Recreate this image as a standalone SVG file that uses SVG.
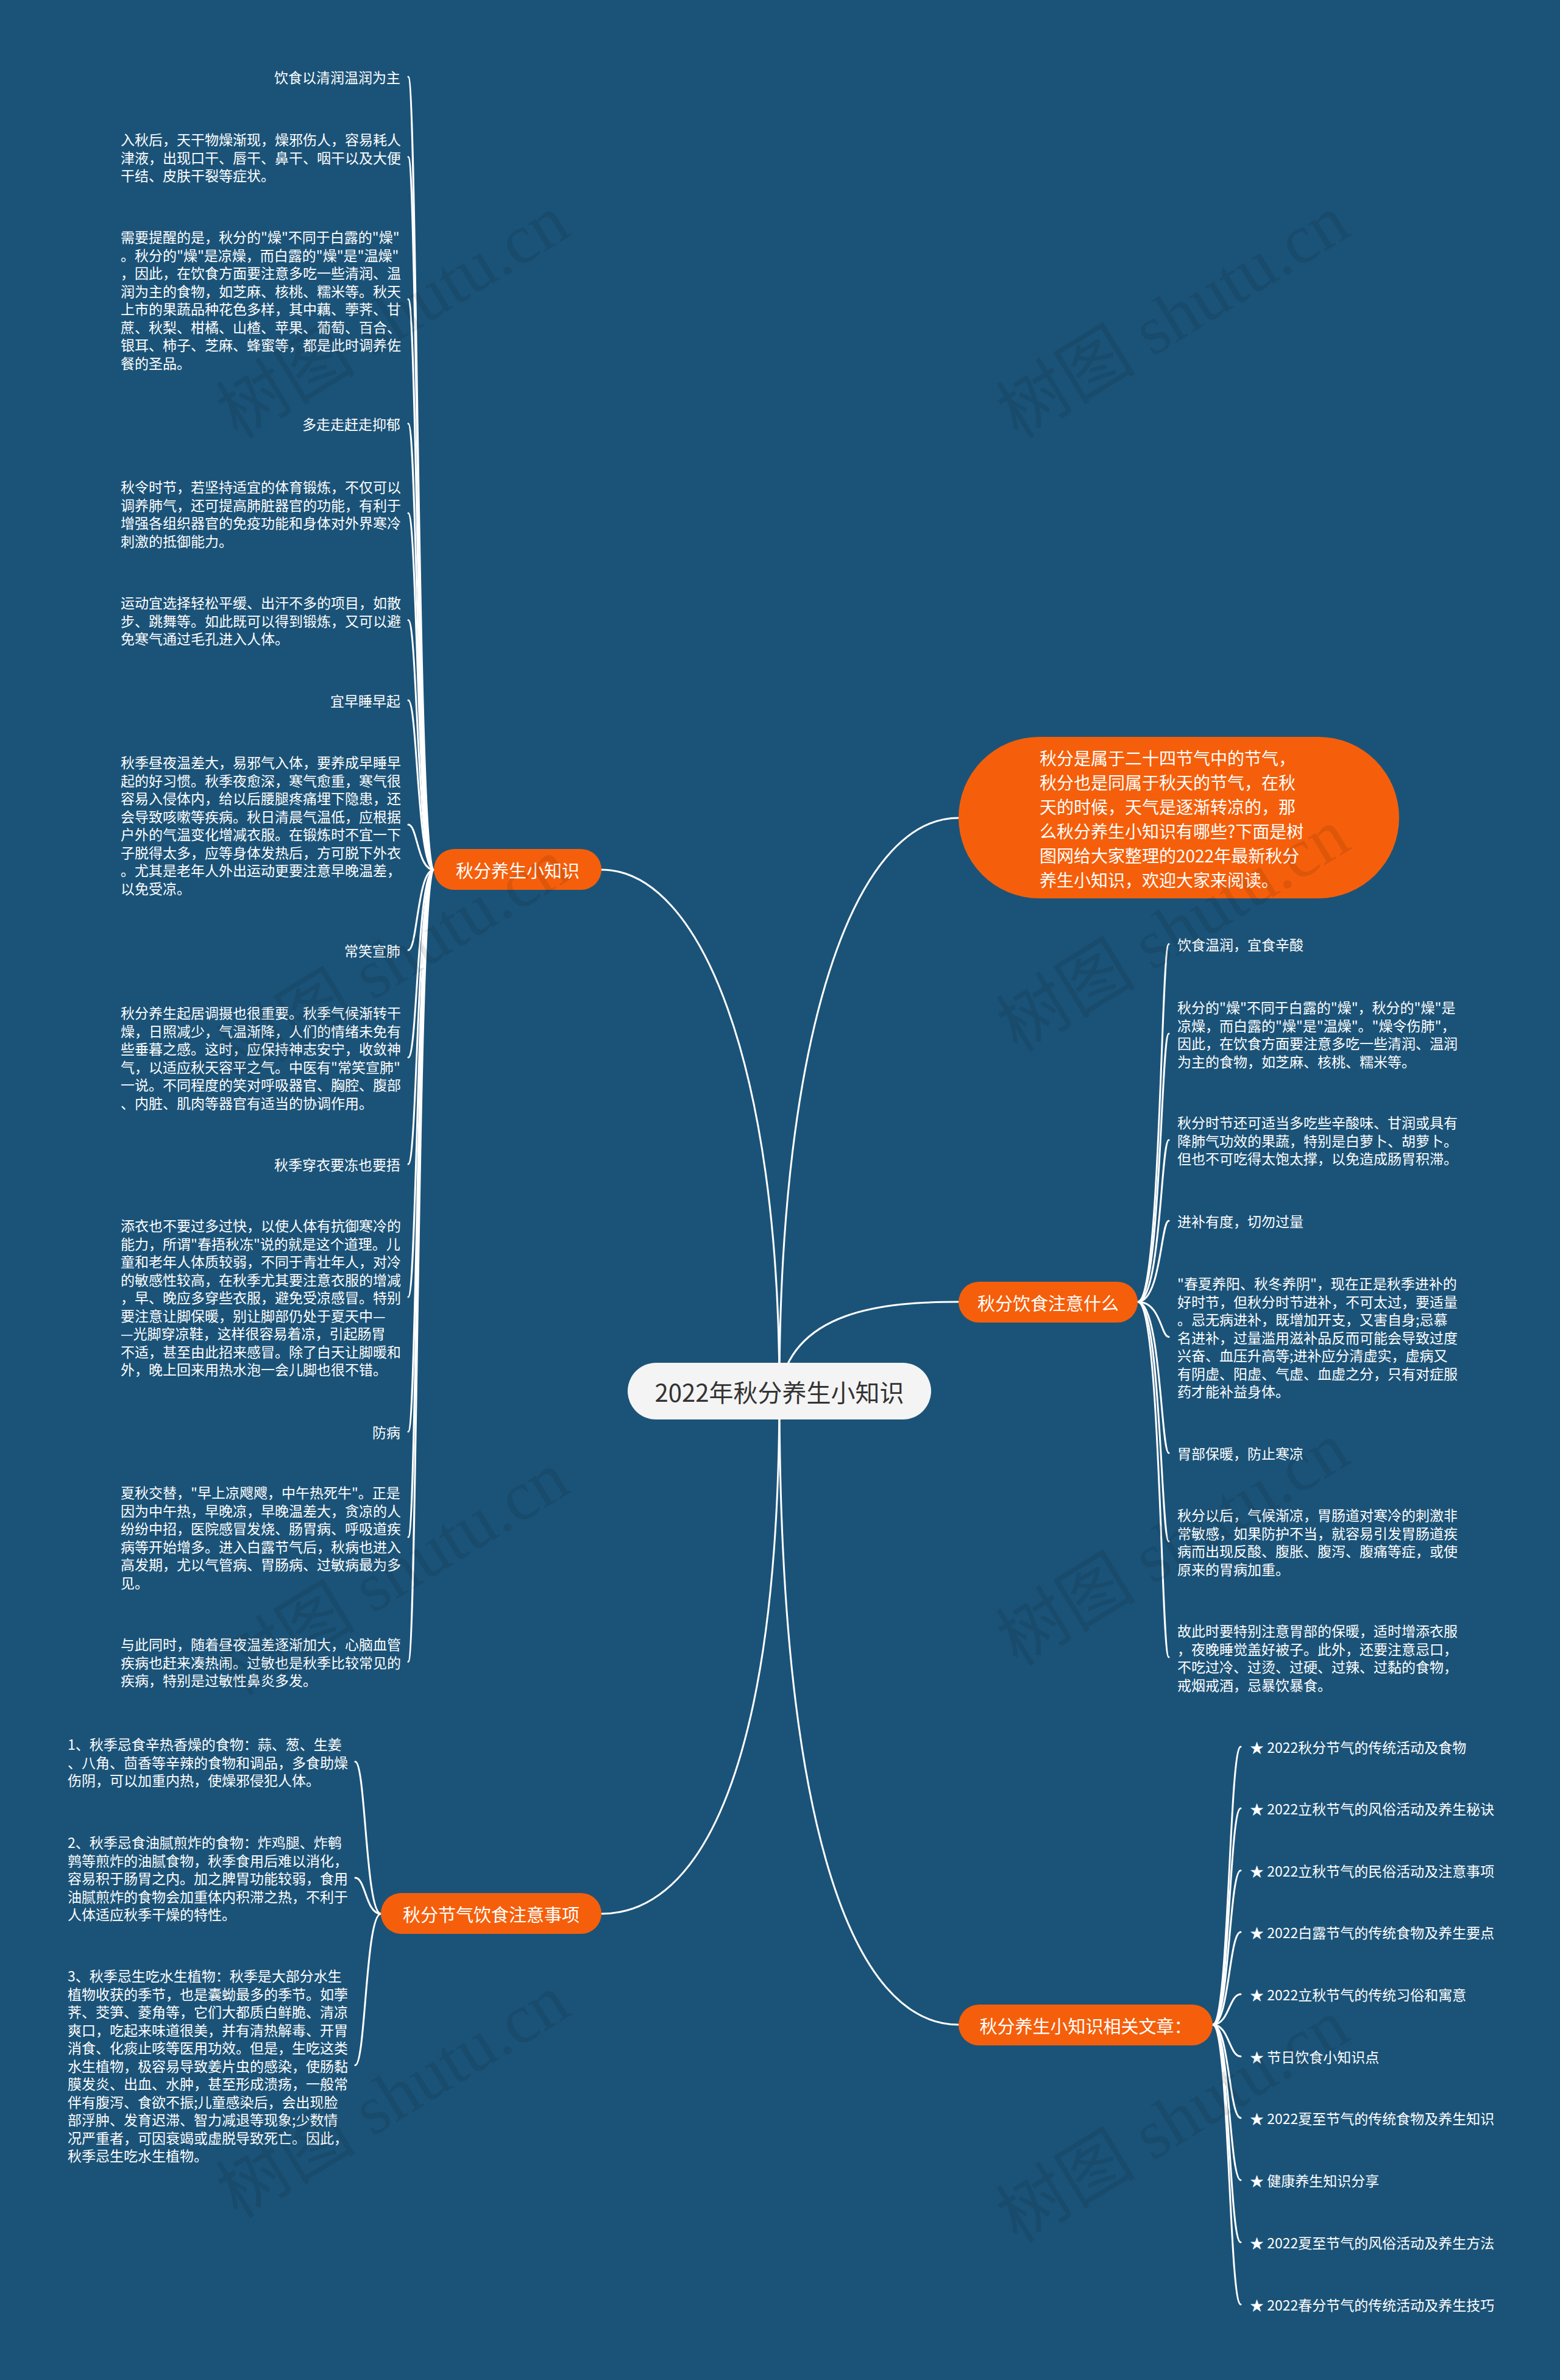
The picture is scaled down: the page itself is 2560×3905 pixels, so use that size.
<svg xmlns="http://www.w3.org/2000/svg" width="2560" height="3905" viewBox="0 0 2560 3905">
<style>
text, tspan { dominant-baseline: central; }
.t { font-family: "Noto Sans CJK SC", "Noto Sans", sans-serif; fill: #ffffff; font-size: 23px; }
.te { text-anchor: end; }
.d { font-size: 23px; }
.pill { fill: #f55f0b; }
.pt { font-family: "Noto Sans CJK SC", "Noto Sans", sans-serif; fill: #ffffff; font-size: 29px; text-anchor: middle; }
.it { font-family: "Noto Sans CJK SC", "Noto Sans", sans-serif; fill: #ffffff; font-size: 28px; }
.ct { font-family: "Noto Sans CJK SC", "Noto Sans", sans-serif; fill: #333333; font-size: 40px; text-anchor: middle; }
.conn { fill: none; stroke: #ffffff; stroke-width: 3; stroke-linecap: round; }
.wm { font-family: "Liberation Serif", "Noto Sans CJK SC", serif; font-size: 115px; fill: #000000; opacity: 0.09; text-anchor: middle; }
</style>
<rect width="2560" height="3905" fill="#1b5378"/>

<g id="connectors">
  <!-- main -->
  <path class="conn" d="M1279 2282 C1279 1750 1150 1427 987 1427"/>
  <path class="conn" d="M1279 2282 C1279 1700 1400 1342 1573 1342"/>
  <path class="conn" d="M1279 2282 C1300 2150 1450 2136 1573 2136"/>
  <path class="conn" d="M1279 2282 C1279 2900 1150 3140 987 3140"/>
  <path class="conn" d="M1279 2282 C1279 3000 1400 3322 1573 3322"/>
  <!-- A: 秋分养生小知识 children -->
  <path class="conn" d="M712 1427 C685 1427 685 126 670 126"/>
  <path class="conn" d="M712 1427 C685 1427 685 257.5 670 257.5"/>
  <path class="conn" d="M712 1427 C685 1427 685 491 670 491"/>
  <path class="conn" d="M712 1427 C685 1427 685 695 670 695"/>
  <path class="conn" d="M712 1427 C685 1427 685 842 670 842"/>
  <path class="conn" d="M712 1427 C685 1427 685 1017.5 670 1017.5"/>
  <path class="conn" d="M712 1427 C685 1427 685 1149 670 1149"/>
  <path class="conn" d="M712 1427 C685 1427 685 1353 670 1353"/>
  <path class="conn" d="M712 1427 C685 1427 685 1559 670 1559"/>
  <path class="conn" d="M712 1427 C685 1427 685 1735 670 1735"/>
  <path class="conn" d="M712 1427 C685 1427 685 1910 670 1910"/>
  <path class="conn" d="M712 1427 C685 1427 685 2128 670 2128"/>
  <path class="conn" d="M712 1427 C685 1427 685 2349 670 2349"/>
  <path class="conn" d="M712 1427 C685 1427 685 2522 670 2522"/>
  <path class="conn" d="M712 1427 C685 1427 685 2726.5 670 2726.5"/>
  <!-- B: 秋分饮食注意什么 children -->
  <path class="conn" d="M1867 2136 C1905 2136 1905 1549 1918 1549"/>
  <path class="conn" d="M1867 2136 C1905 2136 1905 1696 1918 1696"/>
  <path class="conn" d="M1867 2136 C1905 2136 1905 1870.5 1918 1870.5"/>
  <path class="conn" d="M1867 2136 C1905 2136 1905 2003 1918 2003"/>
  <path class="conn" d="M1867 2136 C1905 2136 1905 2193.5 1918 2193.5"/>
  <path class="conn" d="M1867 2136 C1905 2136 1905 2384 1918 2384"/>
  <path class="conn" d="M1867 2136 C1905 2136 1905 2529 1918 2529"/>
  <path class="conn" d="M1867 2136 C1905 2136 1905 2719 1918 2719"/>
  <!-- C: 秋分节气饮食注意事项 children -->
  <path class="conn" d="M625 3140 C600 3140 600 2890.5 583 2890.5"/>
  <path class="conn" d="M625 3140 C600 3140 600 3081 583 3081"/>
  <path class="conn" d="M625 3140 C600 3140 600 3388.5 583 3388.5"/>
  <!-- D: 相关文章 children -->
  <path class="conn" d="M1990 3322 C2017 3322 2017 2866 2036 2866"/>
  <path class="conn" d="M1990 3322 C2017 3322 2017 2967 2036 2967"/>
  <path class="conn" d="M1990 3322 C2017 3322 2017 3069 2036 3069"/>
  <path class="conn" d="M1990 3322 C2017 3322 2017 3170 2036 3170"/>
  <path class="conn" d="M1990 3322 C2017 3322 2017 3272 2036 3272"/>
  <path class="conn" d="M1990 3322 C2017 3322 2017 3374 2036 3374"/>
  <path class="conn" d="M1990 3322 C2017 3322 2017 3475 2036 3475"/>
  <path class="conn" d="M1990 3322 C2017 3322 2017 3577 2036 3577"/>
  <path class="conn" d="M1990 3322 C2017 3322 2017 3679 2036 3679"/>
  <path class="conn" d="M1990 3322 C2017 3322 2017 3781 2036 3781"/>
</g>

<g id="center">
  <rect x="1030" y="2236" width="498" height="93" rx="46.5" fill="#f4f4f4"/>
  <text class="ct" x="1279" y="2282.5">2022年秋分养生小知识</text>
</g>

<g id="intro">
  <rect class="pill" x="1573" y="1209" width="723" height="265" rx="132.5"/>
  <text class="it">
    <tspan x="1706" y="1243">秋分是属于二十四节气中的节气，</tspan>
    <tspan x="1706" y="1283">秋分也是同属于秋天的节气，在秋</tspan>
    <tspan x="1706" y="1323">天的时候，天气是逐渐转凉的，那</tspan>
    <tspan x="1706" y="1363">么秋分养生小知识有哪些?下面是树</tspan>
    <tspan x="1706" y="1403">图网给大家整理的2022年最新秋分</tspan>
    <tspan x="1706" y="1443">养生小知识，欢迎大家来阅读。</tspan>
  </text>
</g>

<g id="branch-a">
  <rect class="pill" x="712" y="1393" width="275" height="67" rx="33.5"/>
  <text class="pt" x="849.5" y="1427">秋分养生小知识</text>
</g>
<g id="branch-b">
  <rect class="pill" x="1573" y="2103" width="294" height="67" rx="33.5"/>
  <text class="pt" x="1720" y="2137">秋分饮食注意什么</text>
</g>
<g id="branch-c">
  <rect class="pill" x="625" y="3106" width="362" height="67" rx="33.5"/>
  <text class="pt" x="806" y="3140">秋分节气饮食注意事项</text>
</g>
<g id="branch-d">
  <rect class="pill" x="1573" y="3289" width="417" height="67" rx="33.5"/>
  <text class="pt" x="1781.5" y="3323">秋分养生小知识相关文章：</text>
</g>

<g id="a1"><text class="t te" x="657" y="126">饮食以清润温润为主</text></g>
<g id="a2"><text class="t">
  <tspan x="198" y="228">入秋后，天干物燥渐现，燥邪伤人，容易耗人</tspan>
  <tspan x="198" y="257.5">津液，出现口干、唇干、鼻干、咽干以及大便</tspan>
  <tspan x="198" y="287">干结、皮肤干裂等症状。</tspan>
</text></g>
<g id="a3"><text class="t">
  <tspan x="198" y="388">需要提醒的是，秋分的"燥"不同于白露的"燥"</tspan>
  <tspan x="198" y="417.5">。秋分的"燥"是凉燥，而白露的"燥"是"温燥"</tspan>
  <tspan x="198" y="447">，因此，在饮食方面要注意多吃一些清润、温</tspan>
  <tspan x="198" y="476.5">润为主的食物，如芝麻、核桃、糯米等。秋天</tspan>
  <tspan x="198" y="506">上市的果蔬品种花色多样，其中藕、荸荠、甘</tspan>
  <tspan x="198" y="535.5">蔗、秋梨、柑橘、山楂、苹果、葡萄、百合、</tspan>
  <tspan x="198" y="565">银耳、柿子、芝麻、蜂蜜等，都是此时调养佐</tspan>
  <tspan x="198" y="594.5">餐的圣品。</tspan>
</text></g>
<g id="a4"><text class="t te" x="657" y="695">多走走赶走抑郁</text></g>
<g id="a5"><text class="t">
  <tspan x="198" y="798">秋令时节，若坚持适宜的体育锻炼，不仅可以</tspan>
  <tspan x="198" y="827.5">调养肺气，还可提高肺脏器官的功能，有利于</tspan>
  <tspan x="198" y="857">增强各组织器官的免疫功能和身体对外界寒冷</tspan>
  <tspan x="198" y="886.5">刺激的抵御能力。</tspan>
</text></g>
<g id="a6"><text class="t">
  <tspan x="198" y="988">运动宜选择轻松平缓、出汗不多的项目，如散</tspan>
  <tspan x="198" y="1017.5">步、跳舞等。如此既可以得到锻炼，又可以避</tspan>
  <tspan x="198" y="1047">免寒气通过毛孔进入人体。</tspan>
</text></g>
<g id="a7"><text class="t te" x="657" y="1149">宜早睡早起</text></g>
<g id="a8"><text class="t">
  <tspan x="198" y="1250">秋季昼夜温差大，易邪气入体，要养成早睡早</tspan>
  <tspan x="198" y="1279.5">起的好习惯。秋季夜愈深，寒气愈重，寒气很</tspan>
  <tspan x="198" y="1309">容易入侵体内，给以后腰腿疼痛埋下隐患，还</tspan>
  <tspan x="198" y="1338.5">会导致咳嗽等疾病。秋日清晨气温低，应根据</tspan>
  <tspan x="198" y="1368">户外的气温变化增减衣服。在锻炼时不宜一下</tspan>
  <tspan x="198" y="1397.5">子脱得太多，应等身体发热后，方可脱下外衣</tspan>
  <tspan x="198" y="1427">。尤其是老年人外出运动更要注意早晚温差，</tspan>
  <tspan x="198" y="1456.5">以免受凉。</tspan>
</text></g>
<g id="a9"><text class="t te" x="657" y="1559">常笑宣肺</text></g>
<g id="a10"><text class="t">
  <tspan x="198" y="1661">秋分养生起居调摄也很重要。秋季气候渐转干</tspan>
  <tspan x="198" y="1690.5">燥，日照减少，气温渐降，人们的情绪未免有</tspan>
  <tspan x="198" y="1720">些垂暮之感。这时，应保持神志安宁，收敛神</tspan>
  <tspan x="198" y="1749.5">气，以适应秋天容平之气。中医有"常笑宣肺"</tspan>
  <tspan x="198" y="1779">一说。不同程度的笑对呼吸器官、胸腔、腹部</tspan>
  <tspan x="198" y="1808.5">、内脏、肌肉等器官有适当的协调作用。</tspan>
</text></g>
<g id="a11"><text class="t te" x="657" y="1910">秋季穿衣要冻也要捂</text></g>
<g id="a12"><text class="t">
  <tspan x="198" y="2010">添衣也不要过多过快，以使人体有抗御寒冷的</tspan>
  <tspan x="198" y="2039.5">能力，所谓"春捂秋冻"说的就是这个道理。儿</tspan>
  <tspan x="198" y="2069">童和老年人体质较弱，不同于青壮年人，对冷</tspan>
  <tspan x="198" y="2098.5">的敏感性较高，在秋季尤其要注意衣服的增减</tspan>
  <tspan x="198" y="2128">，早、晚应多穿些衣服，避免受凉感冒。特别</tspan>
  <tspan x="198" y="2157.5">要注意让脚保暖，别让脚部仍处于夏天中—</tspan>
  <tspan x="198" y="2187">—光脚穿凉鞋，这样很容易着凉，引起肠胃</tspan>
  <tspan x="198" y="2216.5">不适，甚至由此招来感冒。除了白天让脚暖和</tspan>
  <tspan x="198" y="2246">外，晚上回来用热水泡一会儿脚也很不错。</tspan>
</text></g>
<g id="a13"><text class="t te" x="657" y="2349">防病</text></g>
<g id="a14"><text class="t">
  <tspan x="198" y="2448">夏秋交替，"早上凉飕飕，中午热死牛"。正是</tspan>
  <tspan x="198" y="2477.5">因为中午热，早晚凉，早晚温差大，贪凉的人</tspan>
  <tspan x="198" y="2507">纷纷中招，医院感冒发烧、肠胃病、呼吸道疾</tspan>
  <tspan x="198" y="2536.5">病等开始增多。进入白露节气后，秋病也进入</tspan>
  <tspan x="198" y="2566">高发期，尤以气管病、胃肠病、过敏病最为多</tspan>
  <tspan x="198" y="2595.5">见。</tspan>
</text></g>
<g id="a15"><text class="t">
  <tspan x="198" y="2697">与此同时，随着昼夜温差逐渐加大，心脑血管</tspan>
  <tspan x="198" y="2726.5">疾病也赶来凑热闹。过敏也是秋季比较常见的</tspan>
  <tspan x="198" y="2756">疾病，特别是过敏性鼻炎多发。</tspan>
</text></g>

<g id="b1"><text class="t" x="1932" y="1549">饮食温润，宜食辛酸</text></g>
<g id="b2"><text class="t">
  <tspan x="1932" y="1652">秋分的"燥"不同于白露的"燥"，秋分的"燥"是</tspan>
  <tspan x="1932" y="1681.5">凉燥，而白露的"燥"是"温燥"。"燥令伤肺"，</tspan>
  <tspan x="1932" y="1711">因此，在饮食方面要注意多吃一些清润、温润</tspan>
  <tspan x="1932" y="1740.5">为主的食物，如芝麻、核桃、糯米等。</tspan>
</text></g>
<g id="b3"><text class="t">
  <tspan x="1932" y="1841">秋分时节还可适当多吃些辛酸味、甘润或具有</tspan>
  <tspan x="1932" y="1870.5">降肺气功效的果蔬，特别是白萝卜、胡萝卜。</tspan>
  <tspan x="1932" y="1900">但也不可吃得太饱太撑，以免造成肠胃积滞。</tspan>
</text></g>
<g id="b4"><text class="t" x="1932" y="2003">进补有度，切勿过量</text></g>
<g id="b5"><text class="t">
  <tspan x="1932" y="2105">"春夏养阳、秋冬养阴"，现在正是秋季进补的</tspan>
  <tspan x="1932" y="2134.5">好时节，但秋分时节进补，不可太过，要适量</tspan>
  <tspan x="1932" y="2164">。忌无病进补，既增加开支，又害自身;忌慕</tspan>
  <tspan x="1932" y="2193.5">名进补，过量滥用滋补品反而可能会导致过度</tspan>
  <tspan x="1932" y="2223">兴奋、血压升高等;进补应分清虚实，虚病又</tspan>
  <tspan x="1932" y="2252.5">有阴虚、阳虚、气虚、血虚之分，只有对症服</tspan>
  <tspan x="1932" y="2282">药才能补益身体。</tspan>
</text></g>
<g id="b6"><text class="t" x="1932" y="2384">胃部保暖，防止寒凉</text></g>
<g id="b7"><text class="t">
  <tspan x="1932" y="2485">秋分以后，气候渐凉，胃肠道对寒冷的刺激非</tspan>
  <tspan x="1932" y="2514.5">常敏感，如果防护不当，就容易引发胃肠道疾</tspan>
  <tspan x="1932" y="2544">病而出现反酸、腹胀、腹泻、腹痛等症，或使</tspan>
  <tspan x="1932" y="2573.5">原来的胃病加重。</tspan>
</text></g>
<g id="b8"><text class="t">
  <tspan x="1932" y="2675">故此时要特别注意胃部的保暖，适时增添衣服</tspan>
  <tspan x="1932" y="2704.5">，夜晚睡觉盖好被子。此外，还要注意忌口，</tspan>
  <tspan x="1932" y="2734">不吃过冷、过烫、过硬、过辣、过黏的食物，</tspan>
  <tspan x="1932" y="2763.5">戒烟戒酒，忌暴饮暴食。</tspan>
</text></g>

<g id="c1"><text class="t">
  <tspan x="111" y="2861">1、秋季忌食辛热香燥的食物：蒜、葱、生姜</tspan>
  <tspan x="111" y="2890.5">、八角、茴香等辛辣的食物和调品，多食助燥</tspan>
  <tspan x="111" y="2920">伤阴，可以加重内热，使燥邪侵犯人体。</tspan>
</text></g>
<g id="c2"><text class="t">
  <tspan x="111" y="3022">2、秋季忌食油腻煎炸的食物：炸鸡腿、炸鹌</tspan>
  <tspan x="111" y="3051.5">鹑等煎炸的油腻食物，秋季食用后难以消化，</tspan>
  <tspan x="111" y="3081">容易积于肠胃之内。加之脾胃功能较弱，食用</tspan>
  <tspan x="111" y="3110.5">油腻煎炸的食物会加重体内积滞之热，不利于</tspan>
  <tspan x="111" y="3140">人体适应秋季干燥的特性。</tspan>
</text></g>
<g id="c3"><text class="t">
  <tspan x="111" y="3241">3、秋季忌生吃水生植物：秋季是大部分水生</tspan>
  <tspan x="111" y="3270.5">植物收获的季节，也是囊蚴最多的季节。如荸</tspan>
  <tspan x="111" y="3300">荠、茭笋、菱角等，它们大都质白鲜脆、清凉</tspan>
  <tspan x="111" y="3329.5">爽口，吃起来味道很美，并有清热解毒、开胃</tspan>
  <tspan x="111" y="3359">消食、化痰止咳等医用功效。但是，生吃这类</tspan>
  <tspan x="111" y="3388.5">水生植物，极容易导致姜片虫的感染，使肠黏</tspan>
  <tspan x="111" y="3418">膜发炎、出血、水肿，甚至形成溃疡，一般常</tspan>
  <tspan x="111" y="3447.5">伴有腹泻、食欲不振;儿童感染后，会出现脸</tspan>
  <tspan x="111" y="3477">部浮肿、发育迟滞、智力减退等现象;少数情</tspan>
  <tspan x="111" y="3506.5">况严重者，可因衰竭或虚脱导致死亡。因此，</tspan>
  <tspan x="111" y="3536">秋季忌生吃水生植物。</tspan>
</text></g>

<g id="d1"><text class="t d" x="2051" y="2866">★ 2022秋分节气的传统活动及食物</text></g>
<g id="d2"><text class="t d" x="2051" y="2967">★ 2022立秋节气的风俗活动及养生秘诀</text></g>
<g id="d3"><text class="t d" x="2051" y="3069">★ 2022立秋节气的民俗活动及注意事项</text></g>
<g id="d4"><text class="t d" x="2051" y="3170">★ 2022白露节气的传统食物及养生要点</text></g>
<g id="d5"><text class="t d" x="2051" y="3272">★ 2022立秋节气的传统习俗和寓意</text></g>
<g id="d6"><text class="t d" x="2051" y="3374">★ 节日饮食小知识点</text></g>
<g id="d7"><text class="t d" x="2051" y="3475">★ 2022夏至节气的传统食物及养生知识</text></g>
<g id="d8"><text class="t d" x="2051" y="3577">★ 健康养生知识分享</text></g>
<g id="d9"><text class="t d" x="2051" y="3679">★ 2022夏至节气的风俗活动及养生方法</text></g>
<g id="d10"><text class="t d" x="2051" y="3781">★ 2022春分节气的传统活动及养生技巧</text></g>

<g id="watermark">
  <text class="wm" transform="translate(645 520) rotate(-31.5)">树图 shutu.cn</text>
  <text class="wm" transform="translate(645 1576) rotate(-31.5)">树图 shutu.cn</text>
  <text class="wm" transform="translate(645 2582) rotate(-31.5)">树图 shutu.cn</text>
  <text class="wm" transform="translate(645 3440) rotate(-31.5)">树图 shutu.cn</text>
  <text class="wm" transform="translate(1925 520) rotate(-31.5)">树图 shutu.cn</text>
  <text class="wm" transform="translate(1925 1527) rotate(-31.5)">树图 shutu.cn</text>
  <text class="wm" transform="translate(1925 2534) rotate(-31.5)">树图 shutu.cn</text>
  <text class="wm" transform="translate(1925 3480) rotate(-31.5)">树图 shutu.cn</text>
</g>
</svg>
